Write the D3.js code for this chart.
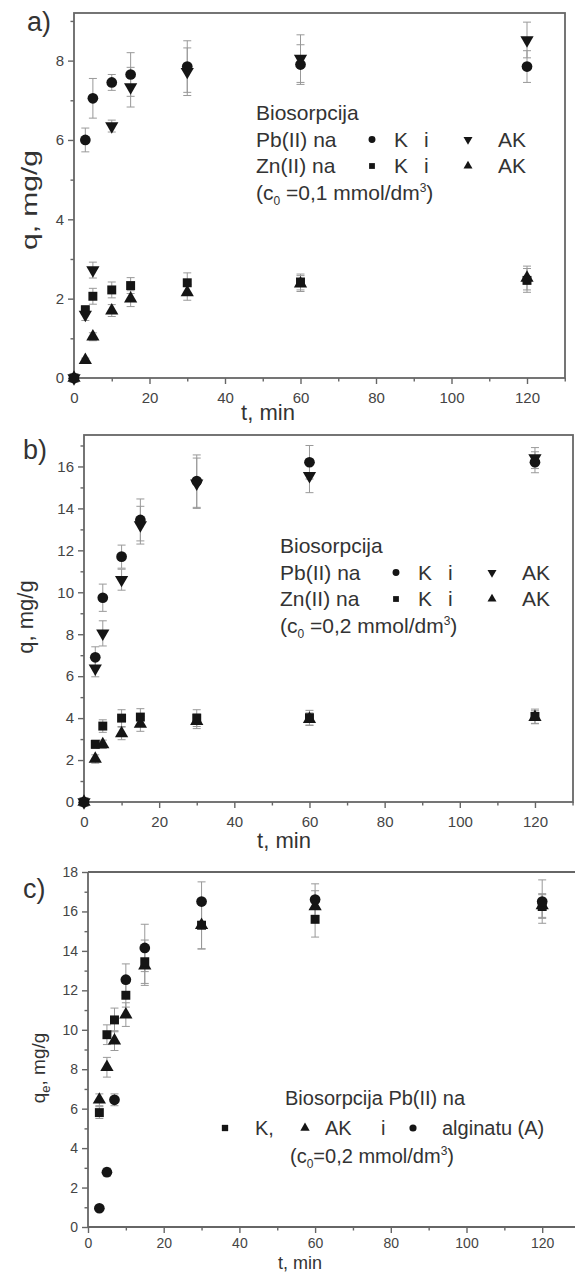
<!DOCTYPE html>
<html>
<head>
<meta charset="utf-8">
<script src="https://cdn.jsdelivr.net/npm/d3@7"></script>
<style>
  body { margin: 0; background: #fff; }
  svg text { font-family: "Liberation Sans", Arial, sans-serif; fill: #333; }
  .axis path, .axis line { stroke: #666; stroke-width: 1.4; }
  .axis text { font-size: 15px; fill: #444; }
  .small .axis text { font-size: 14px; }
  .frame { fill: none; stroke: #666; stroke-width: 1.8; }
  .err { stroke: #999; stroke-width: 1; }
</style>
</head>
<body>
<svg id="chart" width="575" height="1272"></svg>
<script>
// sampling times, min
const timesAB = [0, 3, 5, 10, 15, 30, 60, 120];
const timesC = [3, 5, 7, 10, 15, 30, 60, 120];

// tick labels
const xTicks = [0, 20, 40, 60, 80, 100, 120];
const yTicksA = [0, 2, 4, 6, 8];
const yTicksB = [0, 2, 4, 6, 8, 10, 12, 14, 16];
const yTicksC = [0, 2, 4, 6, 8, 10, 12, 14, 16, 18];

// a) c0 = 0,1 mmol/dm3
const pbK_a = [0, 6.0, 7.05, 7.45, 7.65, 7.85, 7.9, 7.85];
const pbAK_a = [0, 1.6, 2.72, 6.35, 7.33, 7.72, 8.05, 8.52];
const znK_a = [0, 1.72, 2.06, 2.22, 2.33, 2.4, 2.42, 2.46];
const znAK_a = [0, 0.45, 1.04, 1.7, 2.0, 2.16, 2.38, 2.52];
const pbK_aErr = [0, 0.3, 0.5, 0.2, 0.55, 0.65, 0.5, 0.4];
const pbAK_aErr = [0, 0.15, 0.2, 0.15, 0.5, 0.6, 0.6, 0.45];
const znK_aErr = [0, 0.1, 0.2, 0.2, 0.2, 0.25, 0.2, 0.3];
const znAK_aErr = [0, 0.05, 0.1, 0.15, 0.2, 0.2, 0.2, 0.3];

// b) c0 = 0,2 mmol/dm3
const pbK_b = [0, 6.9, 9.74, 11.7, 13.45, 15.3, 16.2, 16.2];
const pbAK_b = [0, 6.37, 8.04, 10.6, 13.2, 15.2, 15.55, 16.4];
const znK_b = [0, 2.75, 3.62, 4.0, 4.05, 4.0, 4.02, 4.08];
const znAK_b = [0, 2.05, 2.75, 3.27, 3.72, 3.85, 3.95, 4.05];
const pbK_bErr = [0, 0.5, 0.65, 0.55, 1.0, 1.25, 0.8, 0.5];
const pbAK_bErr = [0, 0.4, 0.6, 0.5, 0.9, 1.2, 0.8, 0.5];
const znK_bErr = [0, 0.2, 0.3, 0.4, 0.4, 0.4, 0.35, 0.35];
const znAK_bErr = [0, 0.2, 0.2, 0.3, 0.35, 0.35, 0.3, 0.3];

// c) Pb(II), c0 = 0,2 mmol/dm3
const k_c = [5.8, 9.75, 10.5, 11.75, 13.45, 15.3, 15.6, 16.25];
const ak_c = [6.45, 8.1, 9.45, 10.77, 13.25, 15.3, 16.25, 16.3];
const alg_c = [0.95, 2.78, 6.45, 12.54, 14.15, 16.5, 16.6, 16.5];
const k_cErr = [0.3, 0.5, 0.6, 0.6, 1.1, 1.2, 0.9, 0.6];
const ak_cErr = [0.3, 0.5, 0.5, 0.6, 1.0, 1.2, 0.8, 0.6];
const alg_cErr = [0.1, 0.2, 0.3, 0.8, 1.2, 1.0, 0.8, 1.1];

const svg = d3.select('#chart');
const markColor = '#151515';

const shapes = {
  circle: { type: d3.symbolCircle, size: 90, flip: false },
  square: { type: d3.symbolSquare, size: 80, flip: false },
  up: { type: d3.symbolTriangle, size: 76, flip: false },
  down: { type: d3.symbolTriangle, size: 76, flip: true }
};

function symbolAt(g, shape, cx, cy, scale) {
  const s = shapes[shape];
  g.append('path')
    .attr('d', d3.symbol(s.type, s.size * (scale || 1))())
    .attr('transform', `translate(${cx},${cy})` + (s.flip ? ' rotate(180)' : ''))
    .attr('fill', markColor);
}

function drawPanel(p) {
  const g = svg.append('g').attr('class', p.cls || '');
  const x = d3.scaleLinear().domain([0, 130]).range([p.left, p.left + 130 * p.xUnit]);
  const y = d3.scaleLinear().domain(p.yDomain).range([p.bottom, p.top]);
  const xMinor = d3.range(10, 131, 20);
  const yMinor = d3.range(1, p.yDomain[1], 2);

  // minor ticks
  g.append('g').attr('class', 'axis').attr('transform', `translate(0,${p.bottom})`)
    .call(d3.axisBottom(x).tickValues(xMinor).tickSize(3.5).tickFormat(''))
    .call(a => a.select('.domain').remove());
  g.append('g').attr('class', 'axis').attr('transform', `translate(${p.left},0)`)
    .call(d3.axisLeft(y).tickValues(yMinor).tickSize(3.5).tickFormat(''))
    .call(a => a.select('.domain').remove());

  // major ticks
  g.append('g').attr('class', 'axis').attr('transform', `translate(0,${p.bottom})`)
    .call(d3.axisBottom(x).tickValues(xTicks).tickSize(6).tickPadding(p.xPad || 8).tickFormat(d3.format('d')))
    .call(a => a.select('.domain').remove());
  g.append('g').attr('class', 'axis').attr('transform', `translate(${p.left},0)`)
    .call(d3.axisLeft(y).tickValues(p.yTicks).tickSize(6).tickPadding(4).tickFormat(d3.format('d')))
    .call(a => a.select('.domain').remove());

  // frame
  if (p.closed) {
    g.append('rect').attr('class', 'frame')
      .attr('x', p.left).attr('y', p.top)
      .attr('width', p.right - p.left).attr('height', p.bottom - p.top);
  } else {
    g.append('path').attr('class', 'frame')
      .attr('d', `M${p.left},${p.top}H575M${p.left},${p.top}V${p.bottom}H575`);
  }

  // error bars first, markers on top
  p.series.forEach(s => {
    const pts = p.times.map((t, i) => ({ t, v: s.values[i], e: s.err[i] }))
      .filter(d => d.e > 0);
    const eb = g.append('g').attr('class', 'err');
    eb.selectAll('line.v').data(pts).enter().append('line')
      .attr('x1', d => x(d.t)).attr('x2', d => x(d.t))
      .attr('y1', d => y(d.v - d.e)).attr('y2', d => y(d.v + d.e));
    [-1, 1].forEach(sign => {
      eb.selectAll(null).data(pts).enter().append('line')
        .attr('x1', d => x(d.t) - 4).attr('x2', d => x(d.t) + 4)
        .attr('y1', d => y(d.v + sign * d.e)).attr('y2', d => y(d.v + sign * d.e));
    });
  });
  p.series.forEach(s => {
    p.times.forEach((t, i) => symbolAt(g, s.shape, x(t), y(s.values[i])));
  });

  // axis titles
  g.append('text').attr('x', p.xTitle[0]).attr('y', p.xTitle[1])
    .attr('text-anchor', 'middle').style('font-size', (p.xTitleSize || p.titleSize) + 'px')
    .text('t, min');
  const yt = g.append('text')
    .attr('transform', `translate(${p.yTitle[0]},${p.yTitle[1]}) rotate(-90)`)
    .attr('text-anchor', 'middle').style('font-size', p.titleSize + 'px');
  if (p.qSub) {
    yt.append('tspan').text('q');
    yt.append('tspan').attr('dy', 5).style('font-size', '13px').text('e');
    yt.append('tspan').attr('dy', -5).text(', mg/g');
  } else {
    yt.text('q, mg/g');
  }
  if (p.yTitleLen) {
    yt.attr('textLength', p.yTitleLen).attr('lengthAdjust', 'spacingAndGlyphs');
  }

  // panel letter
  g.append('text').attr('x', p.letter[0]).attr('y', p.letter[1])
    .style('font-size', '27px').text(p.letter[2]);
  return g;
}

function concText(g, x0, yb, c, size) {
  const t = g.append('text').attr('x', x0).attr('y', yb).style('font-size', size + 'px');
  t.append('tspan').text('(c');
  t.append('tspan').attr('dy', 5).style('font-size', '12px').text('0');
  t.append('tspan').attr('dy', -5).text(c + ' mmol/dm');
  t.append('tspan').attr('dy', -8).style('font-size', '12px').text('3');
  t.append('tspan').attr('dy', 8).text(')');
}

function legendAB(g, x0, y0, c) {
  const fs = 21, lh = 26.5;
  g.append('text').attr('x', x0).attr('y', y0).style('font-size', fs + 'px').text('Biosorpcija');
  const rows = [['Pb(II) na', 'circle', 'down'], ['Zn(II) na', 'square', 'up']];
  rows.forEach((r, i) => {
    const yb = y0 + lh * (i + 1);
    g.append('text').attr('x', x0).attr('y', yb).style('font-size', fs + 'px').text(r[0]);
    symbolAt(g, r[1], x0 + 116, yb - 7, 0.42);
    g.append('text').attr('x', x0 + 138).attr('y', yb).style('font-size', fs + 'px').text('K');
    g.append('text').attr('x', x0 + 168).attr('y', yb).style('font-size', fs + 'px').text('i');
    symbolAt(g, r[2], x0 + 212, yb - 7, 0.46);
    g.append('text').attr('x', x0 + 242).attr('y', yb).style('font-size', fs + 'px').text('AK');
  });
  concText(g, x0, y0 + lh * 3, ' =' + c, fs);
}

const gA = drawPanel({
  left: 74, right: 565, top: 13, bottom: 378, xUnit: 3.775, yDomain: [0, 9.2],
  yTicks: yTicksA, closed: true, times: timesAB,
  series: [
    { values: pbAK_a, err: pbAK_aErr, shape: 'down' },
    { values: pbK_a, err: pbK_aErr, shape: 'circle' },
    { values: znAK_a, err: znAK_aErr, shape: 'up' },
    { values: znK_a, err: znK_aErr, shape: 'square' }
  ],
  xTitle: [268, 420], yTitle: [37, 200], yTitleLen: 100, titleSize: 22, letter: [27, 31, 'a)']
});
legendAB(gA, 256, 120, '0,1');

const gB = drawPanel({
  left: 84, right: 573, top: 435, bottom: 802, xUnit: 3.758, yDomain: [0, 17.5],
  yTicks: yTicksB, closed: true, times: timesAB,
  series: [
    { values: pbAK_b, err: pbAK_bErr, shape: 'down' },
    { values: pbK_b, err: pbK_bErr, shape: 'circle' },
    { values: znAK_b, err: znAK_bErr, shape: 'up' },
    { values: znK_b, err: znK_bErr, shape: 'square' }
  ],
  xTitle: [284, 848], yTitle: [33, 617], titleSize: 22, letter: [23, 459, 'b)']
});
legendAB(gB, 280, 553, '0,2');

const gC = drawPanel({
  left: 88, right: 575, top: 872, bottom: 1227, xUnit: 3.785, yDomain: [0, 18],
  yTicks: yTicksC, closed: false, times: timesC, cls: 'small', xPad: 5,
  series: [
    { values: ak_c, err: ak_cErr, shape: 'up' },
    { values: k_c, err: k_cErr, shape: 'square' },
    { values: alg_c, err: alg_cErr, shape: 'circle' }
  ],
  xTitle: [300, 1269], xTitleSize: 18, yTitle: [45, 1068], titleSize: 19, letter: [23, 898, 'c)'], qSub: true
});

// legend c
gC.append('text').attr('x', 285).attr('y', 1105).style('font-size', '20px').text('Biosorpcija Pb(II) na');
symbolAt(gC, 'square', 225, 1128, 0.5);
gC.append('text').attr('x', 255).attr('y', 1135).style('font-size', '20px').text('K,');
symbolAt(gC, 'up', 305, 1128, 0.5);
gC.append('text').attr('x', 325).attr('y', 1135).style('font-size', '20px').text('AK');
gC.append('text').attr('x', 381).attr('y', 1135).style('font-size', '20px').text('i');
symbolAt(gC, 'circle', 413, 1128, 0.45);
gC.append('text').attr('x', 442).attr('y', 1135).style('font-size', '20px').text('alginatu (A)');
concText(gC, 290, 1163, '=0,2', 20);
</script>
</body>
</html>
